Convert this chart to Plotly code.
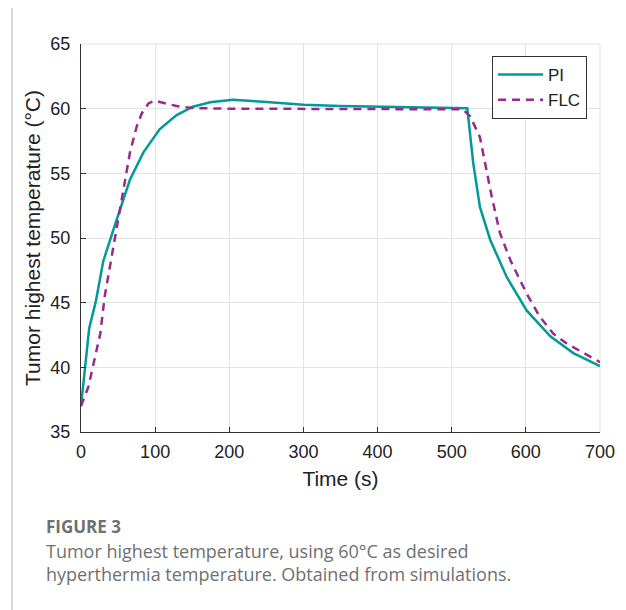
import plotly.graph_objects as go

# PI controller response (time s, temperature C)
pi_t = [0, 11, 20, 30, 48, 66, 84, 106, 129, 151, 174, 205, 241, 300, 350, 400, 450, 500, 521,
        529, 538, 552, 574, 601, 633, 664, 700]
pi_T = [37.0, 43.0, 45.1, 48.2, 51.4, 54.5, 56.6, 58.4, 59.5, 60.15, 60.5, 60.68, 60.55, 60.3, 60.2,
        60.15, 60.08, 60.05, 60.03, 55.8, 52.4, 49.85, 47.0, 44.4, 42.4, 41.1, 40.1]

# FLC controller response
flc_t = [0, 10, 17, 26, 32, 39, 46, 53, 59, 66, 75, 82, 91, 99, 129, 151, 200, 300, 400, 500, 515,
         525, 538, 545, 554, 565, 579, 592, 603, 619, 637, 655, 678, 700]
flc_T = [37.0, 38.5, 40.3, 42.6, 45.5, 47.8, 50.1, 52.4, 54.5, 56.6, 58.6, 59.65, 60.4, 60.62, 60.2,
         60.05, 60.0, 60.0, 60.0, 60.0, 59.95, 59.4, 57.8, 55.8, 53.2, 50.4, 48.3, 46.75, 45.5, 43.9,
         42.6, 41.85, 41.1, 40.4]

x_ticks = [0, 100, 200, 300, 400, 500, 600, 700]
y_ticks = [35, 40, 45, 50, 55, 60, 65]

fig = go.Figure()
fig.add_trace(go.Scatter(x=pi_t, y=pi_T, mode='lines', name='PI',
                         line=dict(color='#009b98', width=2.5)))
fig.add_trace(go.Scatter(x=flc_t, y=flc_T, mode='lines', name='FLC',
                         line=dict(color='#972a8e', width=2.5, dash='8px,6px')))

axis_font = dict(family='Arial, Liberation Sans, sans-serif', size=18, color='#222')

# page body adds an 8px offset, so the figure is 8px smaller than the window
fig.update_layout(
    width=618, height=602,
    margin=dict(l=73, r=26, t=36, b=178),
    paper_bgcolor='white', plot_bgcolor='white',
    font=axis_font,
    showlegend=True,
    legend=dict(x=0.975, y=0.969, xanchor='right', yanchor='top',
                bgcolor='white', bordercolor='#333', borderwidth=1,
                font=dict(family='Arial, Liberation Sans, sans-serif', size=17, color='#222'),
                tracegroupgap=0, itemwidth=45),
    xaxis=dict(range=[0, 700], tickvals=x_ticks, showgrid=True, gridcolor='#e3e3e3',
               showline=True, linecolor='#333', linewidth=1, ticks='inside', ticklen=5,
               tickcolor='#333', zeroline=False, ticklabelstandoff=3,
               title=dict(text='Time (s)', font=dict(size=21), standoff=10)),
    yaxis=dict(range=[35, 65], tickvals=y_ticks, showgrid=True, gridcolor='#e3e3e3',
               showline=True, linecolor='#333', linewidth=1, ticks='inside', ticklen=5,
               tickcolor='#333', zeroline=False, ticklabelstandoff=6,
               title=dict(text='Tumor highest temperature (°C)', font=dict(size=21), standoff=4)),
)

# top/right edges drawn as light grid-colored lines
fig.add_shape(type='line', xref='paper', yref='paper', x0=0, x1=1, y0=1, y1=1,
              line=dict(color='#e3e3e3', width=1), layer='below')
fig.add_shape(type='line', xref='paper', yref='paper', x0=1, x1=1, y0=0, y1=1,
              line=dict(color='#e3e3e3', width=1), layer='below')

# outer figure frame
fig.add_shape(type='rect', xref='paper', yref='paper',
              x0=(12 - 81) / 519, x1=(624 - 81) / 519,
              y0=(432 - 640) / 388, y1=1 + (44 - 5) / 388,
              line=dict(color='#cfcfcf', width=1.5))

cap_font = 'Open Sans, Lato, sans-serif'
fig.add_annotation(xref='paper', yref='paper', x=(44 - 81) / 519, y=(432 - 526) / 388,
                   xanchor='left', yanchor='middle', showarrow=False,
                   text='<b>FIGURE 3</b>', font=dict(family=cap_font, size=17, color='#707070'))
fig.add_annotation(xref='paper', yref='paper', x=(44 - 81) / 519, y=(432 - 562) / 388,
                   xanchor='left', yanchor='middle', showarrow=False, align='left',
                   text='Tumor highest temperature, using 60°C as desired<br>'
                        'hyperthermia temperature. Obtained from simulations.',
                   font=dict(family=cap_font, size=18, color='#707070'))

fig.write_html('out.html')
